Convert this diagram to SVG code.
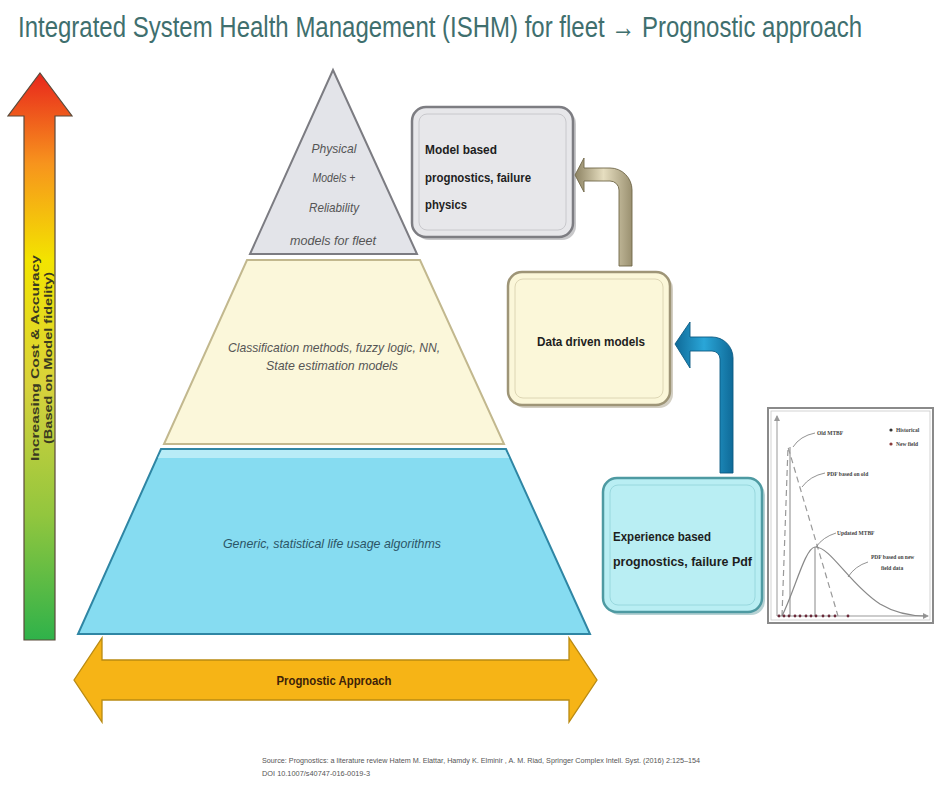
<svg xmlns="http://www.w3.org/2000/svg" width="937" height="789" viewBox="0 0 937 789">
<defs>
<linearGradient id="costGrad" x1="0" y1="73" x2="0" y2="640" gradientUnits="userSpaceOnUse">
<stop offset="0" stop-color="#e8261c"/>
<stop offset="0.16" stop-color="#f7941d"/>
<stop offset="0.33" stop-color="#f3e400"/>
<stop offset="0.55" stop-color="#d8d23c"/>
<stop offset="0.78" stop-color="#92c63e"/>
<stop offset="1" stop-color="#2fb24a"/>
</linearGradient>
<linearGradient id="tanGrad" x1="0" y1="0" x2="1" y2="0">
<stop offset="0" stop-color="#8c8262"/>
<stop offset="0.5" stop-color="#e6dec0"/>
<stop offset="1" stop-color="#9a9070"/>
</linearGradient>
<linearGradient id="blueGrad" x1="0" y1="0" x2="1" y2="0">
<stop offset="0" stop-color="#0f6a98"/>
<stop offset="0.5" stop-color="#2aa6d8"/>
<stop offset="1" stop-color="#0f6a98"/>
</linearGradient>
<marker id="axisHead" markerWidth="6" markerHeight="6" refX="5" refY="3" orient="auto" markerUnits="userSpaceOnUse">
<path d="M0,0 L6,3 L0,6 Z" fill="#999"/>
</marker>
</defs>
<style>
.title{font-family:"Liberation Sans",Arial,sans-serif;font-size:30px;fill:#3f6f6e}
.pyr{font-family:"Liberation Sans",Arial,sans-serif;font-style:italic;font-size:13px;fill:#555555}
.box{font-family:"Liberation Sans",Arial,sans-serif;font-weight:bold;font-size:12.5px;fill:#1e1e1e}
.side{font-family:"Liberation Sans",Arial,sans-serif;font-weight:bold;font-size:11px;fill:#3a3a20}
.chart{font-family:"Liberation Serif","Times New Roman",serif;font-weight:bold;font-size:5.5px;fill:#444}
.src{font-family:"Liberation Sans",Arial,sans-serif;font-size:6.5px;fill:#555}
.lead{fill:none;stroke:#777;stroke-width:0.8}
</style>
<rect width="937" height="789" fill="#ffffff"/>

<g id="title">
<text class="title" transform="translate(18,37) scale(0.8,1)" x="0" y="0">Integrated System Health Management (ISHM) for fleet → Prognostic approach</text>
</g>

<g id="cost-arrow">
<path d="M40,73 L72,116 L55,116 L55,640 L24,640 L24,116 L8,116 Z" fill="url(#costGrad)" stroke="#5a4a3a" stroke-width="1.2"/>
<text class="side" transform="translate(39,358) rotate(-90)" text-anchor="middle" textLength="206" lengthAdjust="spacingAndGlyphs">Increasing Cost &amp; Accuracy</text>
<text class="side" transform="translate(52,358) rotate(-90)" text-anchor="middle" textLength="172" lengthAdjust="spacingAndGlyphs">(Based on Model fidelity)</text>
</g>

<g id="pyramid-top">
<polygon points="333,70 417,254 250,254" fill="#e3e4e9" stroke="#7c7c82" stroke-width="2"/>
<text class="pyr" x="334" y="153" text-anchor="middle" textLength="45" lengthAdjust="spacingAndGlyphs">Physical</text>
<text class="pyr" x="334" y="182" text-anchor="middle" textLength="43" lengthAdjust="spacingAndGlyphs">Models +</text>
<text class="pyr" x="334" y="212" text-anchor="middle" textLength="50" lengthAdjust="spacingAndGlyphs">Reliability</text>
<text class="pyr" x="333" y="245" text-anchor="middle" textLength="86" lengthAdjust="spacingAndGlyphs">models for fleet</text>
</g>

<g id="pyramid-middle">
<polygon points="247,260 420,260 504,444 164,444" fill="#fbf7da" stroke="#c2b88e" stroke-width="2"/>
<text class="pyr" x="334" y="352" text-anchor="middle" textLength="212" lengthAdjust="spacingAndGlyphs">Classification methods, fuzzy logic, NN,</text>
<text class="pyr" x="332" y="370" text-anchor="middle" textLength="132" lengthAdjust="spacingAndGlyphs">State estimation models</text>
</g>

<g id="pyramid-bottom">
<polygon points="161,449 506,449 590,634 78,634" fill="#86dcf1" stroke="#2f86a4" stroke-width="2"/>
<polygon points="162,450 505,450 509,458 158,458" fill="#b8ecf7"/>
<text class="pyr" x="332" y="548" text-anchor="middle" textLength="218" lengthAdjust="spacingAndGlyphs" style="fill:#2c5566">Generic, statistical life usage algorithms</text>
</g>

<g id="approach-arrow">
<path d="M74,680 L102,638 L102,660 L569,660 L569,638 L597,680 L569,722 L569,700 L102,700 L102,722 Z" fill="#f6b416" stroke="#b98a12" stroke-width="1.3"/>
<text class="box" x="334" y="685" text-anchor="middle" textLength="115" lengthAdjust="spacingAndGlyphs" style="fill:#3d2208">Prognostic Approach</text>
</g>

<g id="model-based">
<rect x="415" y="110" width="161" height="130" rx="14" fill="#9a9a9e" opacity="0.55"/>
<rect x="412" y="107" width="161" height="130" rx="14" fill="#e7e7ea" stroke="#7d7d82" stroke-width="2.5"/>
<rect x="419" y="114" width="147" height="116" rx="8" fill="none" stroke="#c8c8cc" stroke-width="1"/>
<text class="box" x="425" y="154" textLength="72" lengthAdjust="spacingAndGlyphs">Model based</text>
<text class="box" x="425" y="182" textLength="106" lengthAdjust="spacingAndGlyphs">prognostics, failure</text>
<text class="box" x="425" y="209" textLength="42" lengthAdjust="spacingAndGlyphs">physics</text>
</g>

<g id="data-driven">
<rect x="511" y="275" width="162" height="133" rx="14" fill="#a8a088" opacity="0.5"/>
<rect x="508" y="272" width="162" height="133" rx="14" fill="#fbf7d9" stroke="#9e9577" stroke-width="2.5"/>
<rect x="515" y="279" width="148" height="119" rx="8" fill="none" stroke="#ddd6b4" stroke-width="1"/>
<text class="box" x="591" y="346" text-anchor="middle" textLength="108" lengthAdjust="spacingAndGlyphs">Data driven models</text>
</g>

<g id="experience-based">
<rect x="606" y="481" width="159" height="134" rx="14" fill="#6fa6aa" opacity="0.5"/>
<rect x="603" y="478" width="159" height="134" rx="14" fill="#b9eef3" stroke="#4e9aa2" stroke-width="2.5"/>
<rect x="610" y="485" width="145" height="120" rx="8" fill="none" stroke="#98d8de" stroke-width="1"/>
<text class="box" x="613" y="541" textLength="98" lengthAdjust="spacingAndGlyphs">Experience based</text>
<text class="box" x="613" y="566" textLength="139" lengthAdjust="spacingAndGlyphs">prognostics, failure Pdf</text>
</g>

<g id="connectors">
<path d="M632,266 L632,190 A22,22 0 0 0 610,168 L584,168 L584,158 L575,175 L584,192 L584,181 L610,181 A9,9 0 0 1 619,190 L619,266 Z" fill="url(#tanGrad)" stroke="#6f6648" stroke-width="0.9"/>
<path d="M733,473 L733,358 A21,21 0 0 0 712,337 L690,337 L690,322 L675,344 L690,368 L690,351 L712,351 A8,8 0 0 1 720,359 L720,473 Z" fill="url(#blueGrad)" stroke="#0c5a82" stroke-width="0.9"/>
</g>

<g id="pdf-chart">
<rect x="768" y="408" width="165" height="215" fill="#ffffff" stroke="#8a8a8a" stroke-width="2"/>
<rect x="771" y="411" width="159" height="209" fill="none" stroke="#c8c8c8" stroke-width="0.8"/>
<line x1="777" y1="616" x2="777" y2="416" stroke="#999" stroke-width="1" marker-end="url(#axisHead)"/>
<line x1="777" y1="616" x2="928" y2="616" stroke="#999" stroke-width="1" marker-end="url(#axisHead)"/>
<line x1="790" y1="447" x2="790" y2="616" stroke="#888" stroke-width="1"/>
<path d="M782,616 L788,447 L838,616" fill="none" stroke="#999" stroke-width="1.2" stroke-dasharray="6,4"/>
<path d="M782,616 C795,590 805,548 815,547 C830,546 850,585 880,604 C895,613 910,616 926,616" fill="none" stroke="#888" stroke-width="1.2"/>
<line x1="815" y1="547" x2="815" y2="616" stroke="#888" stroke-width="1"/>
<path class="lead" d="M815,433 Q800,436 793,447"/>
<path class="lead" d="M825,473 Q810,476 802,487"/>
<path class="lead" d="M836,533 Q823,537 816,547"/>
<path class="lead" d="M868,562 Q855,566 848,577"/>
<text class="chart" x="817" y="435">Old MTBF</text>
<text class="chart" x="827" y="476">PDF based on old</text>
<text class="chart" x="837" y="535">Updated MTBF</text>
<text class="chart" x="871" y="559">PDF based on new</text>
<text class="chart" x="881" y="570">field data</text>
<circle cx="891" cy="430" r="1.6" fill="#333"/>
<text class="chart" x="896" y="432">Historical</text>
<circle cx="891" cy="444" r="1.6" fill="#8a3a3a"/>
<text class="chart" x="896" y="446">New field</text>
<g fill="#6a2a3a">
<circle cx="779" cy="616" r="1.4"/><circle cx="784" cy="616" r="1.4"/><circle cx="789" cy="616" r="1.4"/>
<circle cx="795" cy="616" r="1.4"/><circle cx="800" cy="616" r="1.4"/><circle cx="806" cy="616" r="1.4"/>
<circle cx="811" cy="616" r="1.4"/><circle cx="816" cy="616" r="1.4"/><circle cx="823" cy="616" r="1.4"/>
<circle cx="829" cy="616" r="1.4"/><circle cx="835" cy="616" r="1.4"/><circle cx="848" cy="616" r="1.4"/>
</g>
</g>

<g id="source">
<text class="src" x="262" y="763" textLength="438" lengthAdjust="spacingAndGlyphs">Source: Prognostics: a literature review Hatem M. Elattar,  Hamdy K. Elminir ,  A. M. Riad, Springer Complex Intell. Syst. (2016) 2:125–154</text>
<text class="src" x="262" y="776" textLength="108" lengthAdjust="spacingAndGlyphs">DOI 10.1007/s40747-016-0019-3</text>
</g>
</svg>
